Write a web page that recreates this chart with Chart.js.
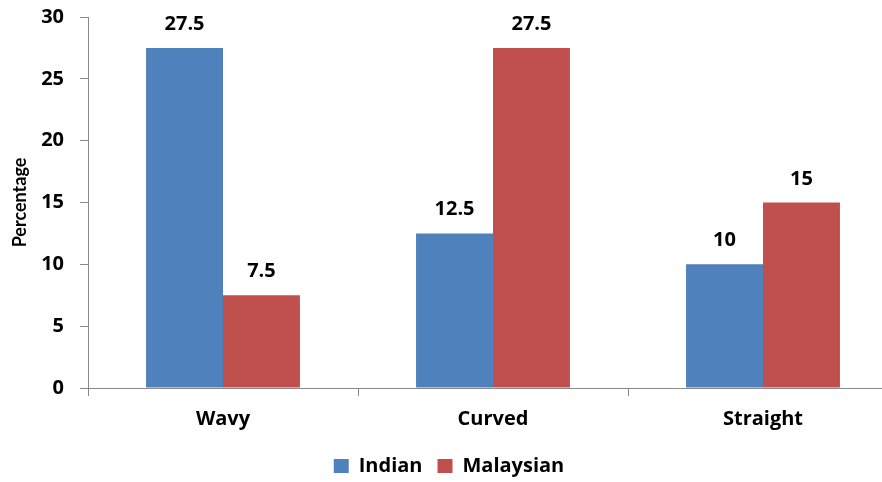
<!DOCTYPE html>
<html>
<head>
<meta charset="utf-8">
<script src="https://cdn.jsdelivr.net/npm/chart.js@4/dist/chart.umd.min.js"></script>
<style>
  html, body { margin: 0; padding: 0; background: #fff; overflow: hidden; }
  #wrap { width: 882px; height: 482px; overflow: hidden; }
  canvas { display: block; }
</style>
</head>
<body>
<div id="wrap"><canvas id="c" width="900" height="482"></canvas></div>
<script>
const categories = ['Wavy', 'Curved', 'Straight'];
const indianValues = [27.5, 12.5, 10];
const malaysianValues = [7.5, 27.5, 15];
const seriesNames = ['Indian', 'Malaysian'];
const yTicks = [0, 5, 10, 15, 20, 25, 30];

const FONT = '"Open Sans", Lato, sans-serif';
const AXIS_GRAY = '#898989';

// Value labels above each bar
const valueLabels = {
  id: 'valueLabels',
  afterDatasetsDraw(chart) {
    const ctx = chart.ctx;
    ctx.save();
    ctx.font = 'bold 20px ' + FONT;
    ctx.fillStyle = '#000';
    ctx.textAlign = 'center';
    ctx.textBaseline = 'alphabetic';
    chart.data.datasets.forEach((ds, i) => {
      chart.getDatasetMeta(i).data.forEach((bar, j) => {
        ctx.fillText(String(ds.data[j]), bar.x, bar.y - 18);
      });
    });
    ctx.restore();
  }
};

new Chart(document.getElementById('c'), {
  type: 'bar',
  data: {
    labels: categories,
    datasets: [
      { label: seriesNames[0], data: indianValues, backgroundColor: '#4F81BD' },
      { label: seriesNames[1], data: malaysianValues, backgroundColor: '#C0504D' }
    ]
  },
  options: {
    responsive: false,
    animation: false,
    layout: { padding: { left: 0, right: 2, top: 17, bottom: -4 } },
    datasets: { bar: { categoryPercentage: 0.57, barPercentage: 1.0 } },
    scales: {
      x: {
        offset: true,
        grid: { display: true, offset: true, drawOnChartArea: false, tickLength: 8, color: AXIS_GRAY },
        border: { display: true, color: AXIS_GRAY, width: 1 },
        ticks: { color: '#000', font: { family: FONT, size: 20, weight: 'bold' }, padding: 11, maxRotation: 0 },
        afterFit(scale) { scale.height = 53; scale.paddingLeft = 0; scale.paddingRight = 0; }
      },
      y: {
        min: 0, max: 30,
        afterBuildTicks(scale) { scale.ticks = yTicks.map(v => ({ value: v })); },
        grid: { display: true, drawOnChartArea: false, tickLength: 8, color: AXIS_GRAY },
        border: { display: true, color: AXIS_GRAY, width: 1 },
        ticks: { color: '#000', font: { family: FONT, size: 20, weight: 'bold' }, padding: 16 },
        title: { display: true, text: 'Percentage', color: '#000', font: { family: 'Lato, sans-serif', size: 18, weight: 'bold' }, padding: { top: 9, bottom: 0 } },
        afterFit(scale) { scale.width = 88; scale.paddingTop = 0; scale.paddingBottom = 0; }
      }
    },
    plugins: {
      legend: {
        position: 'bottom',
        labels: {
          color: '#000',
          font: { family: FONT, size: 20, weight: 'bold' },
          boxWidth: 15, boxHeight: 14, padding: 15
        }
      },
      tooltip: { enabled: false }
    }
  },
  plugins: [valueLabels]
});
</script>
</body>
</html>
